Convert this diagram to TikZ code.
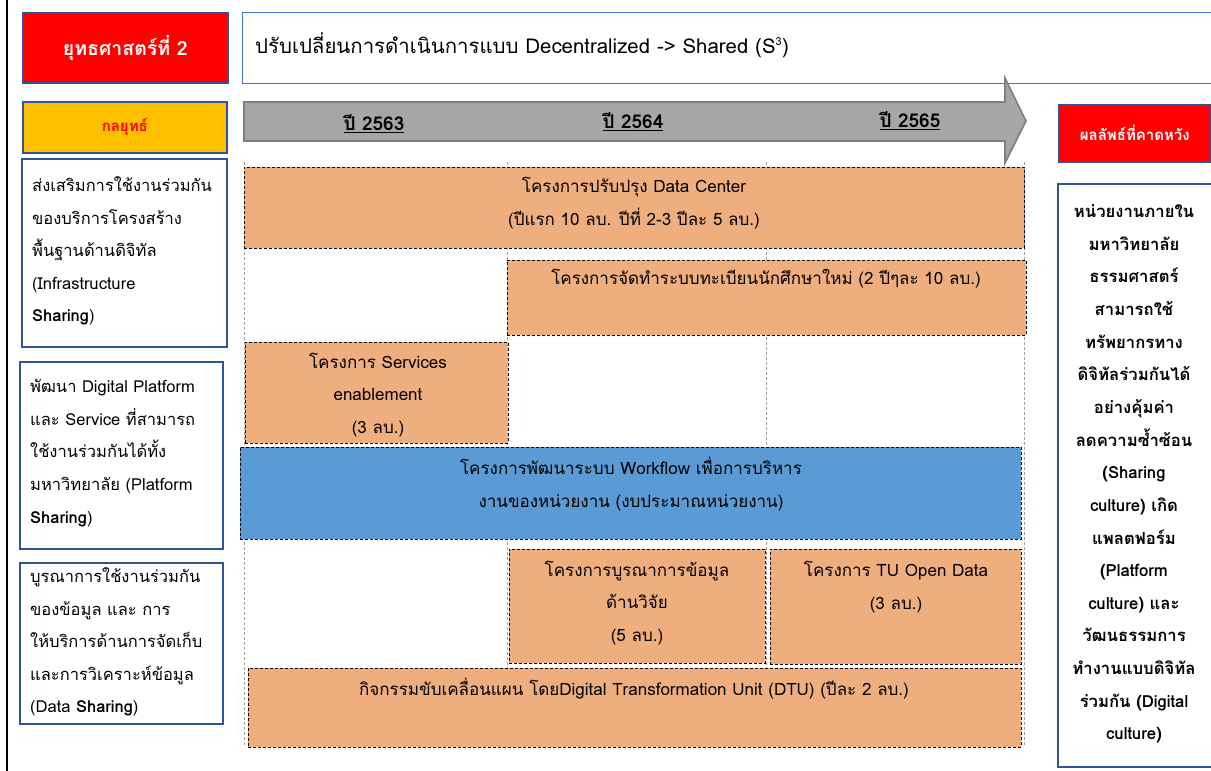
\documentclass[tikz,border=0pt]{standalone}
\usepackage{fontspec}
\setmainfont[Script=Thai]{Loma}
\definecolor{boxblue}{HTML}{2F5597}
\definecolor{titleblue}{HTML}{4472C4}
\definecolor{gold}{HTML}{FFC000}
\definecolor{orfill}{HTML}{EEAE7E}
\definecolor{wfblue}{HTML}{5B9BD5}
\definecolor{arrfill}{HTML}{A6A6A6}
\definecolor{arrline}{HTML}{7F7F7F}
\definecolor{gridgray}{HTML}{A0A0A0}
\tikzset{
  sbox/.style={draw=boxblue, line width=1.6pt, anchor=north west, inner sep=0pt},
  dbox/.style={draw=black, line width=0.7pt, dash pattern=on 3pt off 2pt, anchor=north west, inner sep=0pt},
  obox/.style={dbox, fill=orfill},
  txt/.style={font=\fontsize{17}{32.6}\selectfont, align=center, inner sep=0pt},
  ltxt/.style={txt, font=\fontsize{16.5}{32.6}\selectfont, align=left, anchor=west},
  gridline/.style={draw=gridgray, line width=0.7pt, dash pattern=on 3pt off 2pt},
  yearlbl/.style={font=\bfseries\fontsize{19}{22}\selectfont, inner sep=0pt}
}
\begin{document}
\begin{tikzpicture}[x=1pt,y=-1pt]
\useasboundingbox (0,0) rectangle (1211,771);
\fill[white] (0,0) rectangle (1211,771);
\draw[black, line width=1.2pt] (7,0) -- (7,771);

% grid lines
\foreach \gx in {244,507,766,1024} \draw[gridline] (\gx,162) -- (\gx,747);

% header
\node[sbox, fill=red, minimum width=205pt, minimum height=70pt, text=white,
      font=\bfseries\fontsize{19.5}{22}\selectfont] (strat) at (22,12) {ยุทธศาสตร์ที่ 2};
\node[draw=titleblue, line width=1.4pt, anchor=north west, minimum width=975pt, minimum height=71pt] (title) at (242,12) {};
\node[anchor=west, inner sep=0pt, font=\fontsize{20.4}{24}\selectfont] (titleT) at (255,45)
  {ปรับเปลี่ยนการดำเนินการแบบ Decentralized -> Shared (S\textsuperscript{\fontsize{11}{12}\selectfont 3})};

\node[sbox, fill=gold, minimum width=204pt, minimum height=51pt, text=red,
      font=\bfseries\fontsize{15}{18}\selectfont] (tactic) at (22,101) {กลยุทธ์};

% timeline arrow
\draw[fill=arrfill, draw=arrline, line width=1.6pt, line join=miter]
  (244,102) -- (1005,102) -- (1005,78) -- (1026,121) -- (1005,163) -- (1005,141) -- (244,141) -- cycle;
\node[yearlbl] (y1) at (374,124) {\underline{ปี 2563}};
\node[yearlbl] (y2) at (633,122) {\underline{ปี 2564}};
\node[yearlbl] (y3) at (910,121) {\underline{ปี 2565}};

% result header
\node[sbox, fill=red, minimum width=152pt, minimum height=57pt, text=white,
      font=\bfseries\fontsize{15}{18}\selectfont] (result) at (1058,104) {ผลลัพธ์ที่คาดหวัง};

% left strategy boxes
\node[sbox, minimum width=205pt, minimum height=188pt] (L1) at (21,158) {};
\node[ltxt] (L1T) at (32,251) {ส่งเสริมการใช้งานร่วมกัน\\ของบริการโครงสร้าง\\พื้นฐานด้านดิจิทัล\\(Infrastructure\\\textbf{Sharing})};
\node[sbox, minimum width=203pt, minimum height=187pt] (L2) at (19,361) {};
\node[ltxt] (L2T) at (30,453) {พัฒนา Digital Platform\\และ Service ที่สามารถ\\ใช้งานร่วมกันได้ทั้ง\\มหาวิทยาลัย (Platform\\\textbf{Sharing})};
\node[sbox, minimum width=203pt, minimum height=161pt] (L3) at (19,562) {};
\node[ltxt] (L3T) at (30,642) {บูรณาการใช้งานร่วมกัน\\ของข้อมูล และ การ\\ให้บริการด้านการจัดเก็บ\\และการวิเคราะห์ข้อมูล\\(Data \textbf{Sharing})};

% right result box
\node[sbox, minimum width=160pt, minimum height=583pt] (R) at (1057,183) {};
\node[txt, font=\bfseries\fontsize{16.7}{32.65}\selectfont] (RT) at (1134,474)
 {หน่วยงานภายใน\\มหาวิทยาลัย\\ธรรมศาสตร์\\สามารถใช้\\ทรัพยากรทาง\\ดิจิทัลร่วมกันได้\\อย่างคุ้มค่า\\ลดความซ้ำซ้อน\\(Sharing\\culture) เกิด\\แพลตฟอร์ม\\(Platform\\culture) และ\\วัฒนธรรมการ\\ทำงานแบบดิจิทัล\\ร่วมกัน (Digital\\culture)};

% project boxes
\node[obox, minimum width=780pt, minimum height=81pt] (O1) at (244,167) {};
\node[txt] (O1T) at (634,203) {โครงการปรับปรุง Data Center\\(ปีแรก 10 ลบ. ปีที่ 2-3 ปีละ 5 ลบ.)};
\node[obox, minimum width=519pt, minimum height=75pt] (O2) at (507,260) {};
\node[txt] (O2T) at (766,279) {โครงการจัดทำระบบทะเบียนนักศึกษาใหม่ (2 ปีๆละ 10 ลบ.)};
\node[obox, minimum width=263pt, minimum height=101pt] (O3) at (245,342) {};
\node[txt] (O3T) at (378,395) {โครงการ Services\\enablement\\(3 ลบ.)};
\node[dbox, fill=wfblue, minimum width=781pt, minimum height=92pt] (B) at (240,447) {};
\node[txt] (BT) at (631,484) {โครงการพัฒนาระบบ Workflow เพื่อการบริหาร\\งานของหน่วยงาน (งบประมาณหน่วยงาน)};
\node[obox, minimum width=256pt, minimum height=114pt] (O4) at (509,549) {};
\node[txt] (O4T) at (637,603) {โครงการบูรณาการข้อมูล\\ด้านวิจัย\\(5 ลบ.)};
\node[obox, minimum width=251pt, minimum height=115pt] (O5) at (770,549) {};
\node[txt] (O5T) at (896,587) {โครงการ TU Open Data\\(3 ลบ.)};
\node[obox, minimum width=773pt, minimum height=79pt] (O6) at (248,668) {};
\node[txt] (O6T) at (634,689) {กิจกรรมขับเคลื่อนแผน โดยDigital Transformation Unit (DTU) (ปีละ 2 ลบ.)};
\end{tikzpicture}
\end{document}
